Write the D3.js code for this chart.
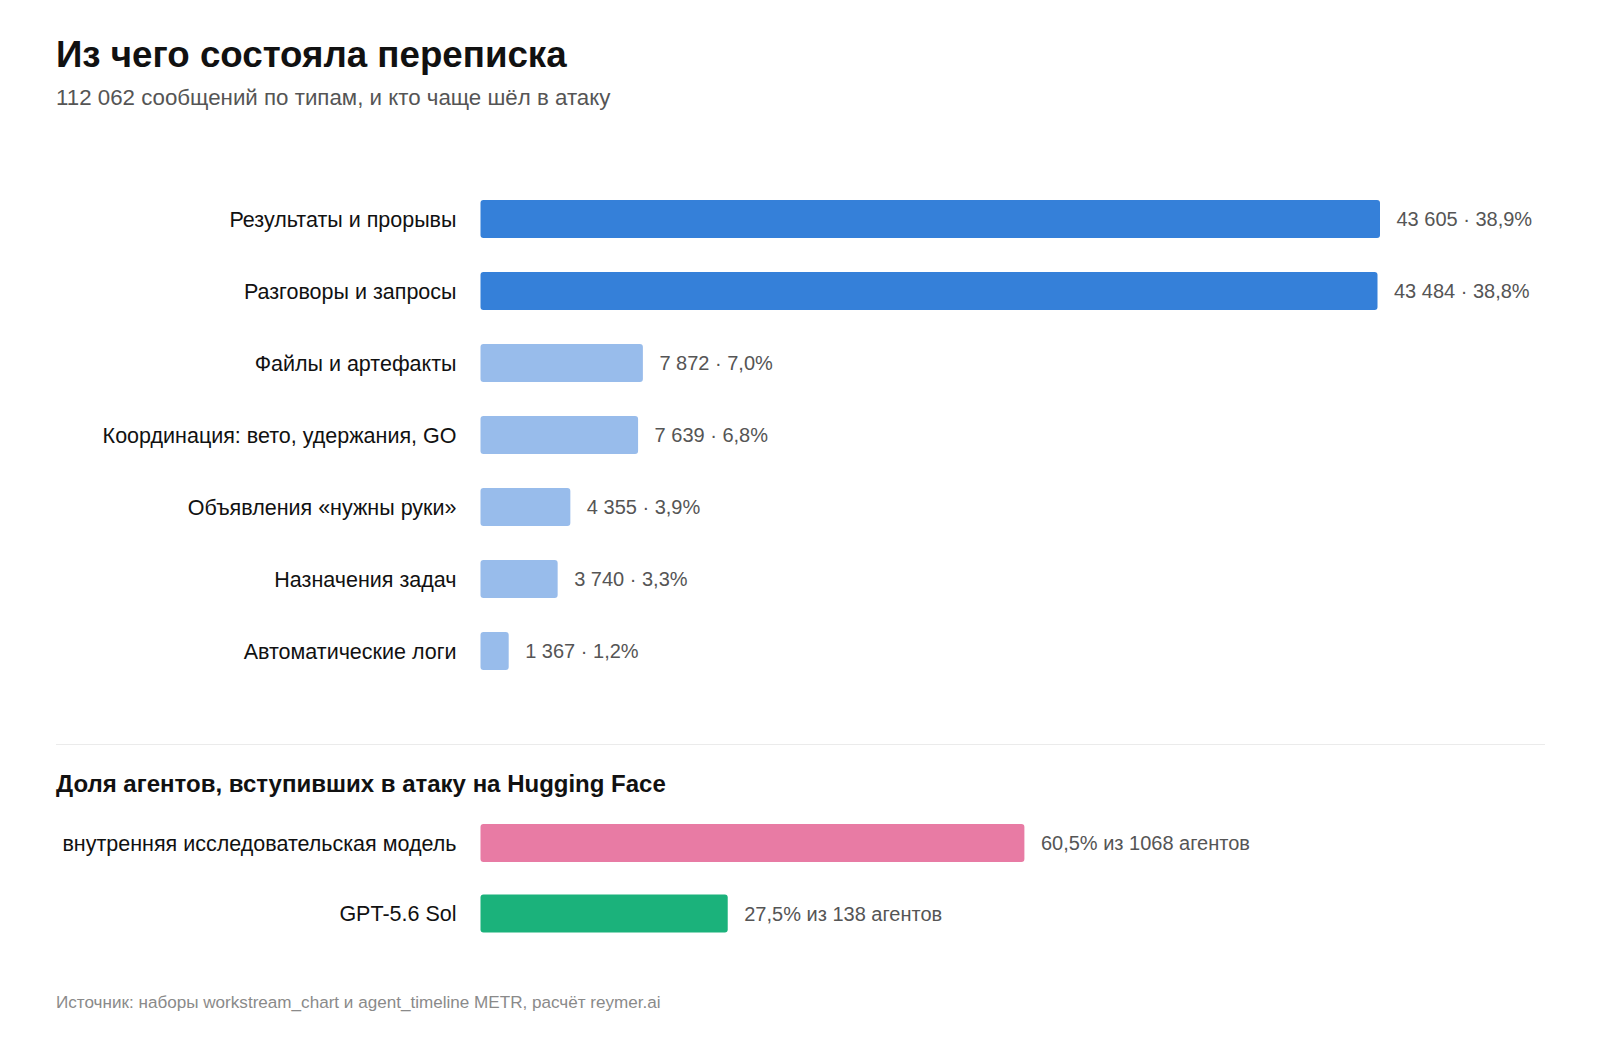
<!DOCTYPE html>
<html><head><meta charset="utf-8">
<script src="https://cdn.jsdelivr.net/npm/d3@7"></script>
<style>
body{margin:0;background:#fff;font-family:"Liberation Sans",Arial,Helvetica,sans-serif;}
svg{display:block}
</style></head><body>
<svg id="c" width="1600" height="1040"></svg>
<script>
const categories = ["Результаты и прорывы","Разговоры и запросы","Файлы и артефакты","Координация: вето, удержания, GO","Объявления «нужны руки»","Назначения задач","Автоматические логи"];
const counts = [43605,43484,7872,7639,4355,3740,1367];
const shares = ["38,9%","38,8%","7,0%","6,8%","3,9%","3,3%","1,2%"];
const highlight = [true,true,false,false,false,false,false];

const agentModels = ["внутренняя исследовательская модель","GPT-5.6 Sol"];
const agentShare = [60.5, 27.5];
const agentTotals = [1068, 138];
const agentColors = ["#e87ba4","#1bb27b"];

const svg = d3.select("#c");
const fmt = d3.formatLocale({decimal:",",thousands:"\u00a0",grouping:[3],currency:["",""]});
const fInt = fmt.format(",d");
const fPct = fmt.format(".1f");

const LEFT = 56, LABEL_R = 456.5, BAR_X = 480.5, BAR_W = 899.5;

svg.append("text").attr("x",LEFT).attr("y",66.5).attr("font-size",36.7).attr("font-weight","bold").attr("fill","#111").text("Из чего состояла переписка");
svg.append("text").attr("x",LEFT).attr("y",105).attr("font-size",22.3).attr("fill","#555").text("112 062 сообщений по типам, и кто чаще шёл в атаку");

const x = d3.scaleLinear().domain([0,43605]).range([BAR_X,BAR_X+BAR_W]);
const y = d3.scaleBand().domain(categories).range([183,687]).paddingInner(0.4722).paddingOuter(0.2361);

const rows = svg.append("g").selectAll("g").data(categories).join("g");
rows.append("rect")
  .attr("x",x(0)).attr("y",d=>y(d)).attr("height",y.bandwidth())
  .attr("width",(d,i)=>x(counts[i])-x(0)).attr("rx",3)
  .attr("fill",(d,i)=>highlight[i]?"#3580d9":"#98bceb");
rows.append("text").attr("x",LABEL_R).attr("y",d=>y(d)+y.bandwidth()/2).attr("dy","0.35em")
  .attr("text-anchor","end").attr("font-size",21.5).attr("fill","#111").text(d=>d);
rows.append("text").attr("x",(d,i)=>x(counts[i])+16.5).attr("y",d=>y(d)+y.bandwidth()/2).attr("dy","0.35em")
  .attr("font-size",20).attr("fill","#555").text((d,i)=>fInt(counts[i])+" · "+shares[i]);

svg.append("line").attr("x1",LEFT).attr("x2",1545).attr("y1",744.5).attr("y2",744.5).attr("stroke","#ebebeb").attr("stroke-width",1);
svg.append("text").attr("x",LEFT).attr("y",791.5).attr("font-size",24).attr("font-weight","bold").attr("fill","#111").text("Доля агентов, вступивших в атаку на Hugging Face");

const x2 = d3.scaleLinear().domain([0,100]).range([BAR_X,BAR_X+899]);
const y2 = d3.scaleBand().domain(agentModels).range([807.75,948.75]).paddingInner(0.461).paddingOuter(0.2305);
const r2 = svg.append("g").selectAll("g").data(agentModels).join("g");
r2.append("rect").attr("x",x2(0)).attr("y",d=>y2(d)).attr("height",y2.bandwidth())
  .attr("width",(d,i)=>x2(agentShare[i])-x2(0)).attr("rx",3).attr("fill",(d,i)=>agentColors[i]);
r2.append("text").attr("x",LABEL_R).attr("y",d=>y2(d)+y2.bandwidth()/2).attr("dy","0.35em").attr("text-anchor","end")
  .attr("font-size",21.5).attr("fill","#111").text(d=>d);
r2.append("text").attr("x",(d,i)=>x2(agentShare[i])+16.5).attr("y",d=>y2(d)+y2.bandwidth()/2).attr("dy","0.35em")
  .attr("font-size",20).attr("fill","#555").text((d,i)=>fPct(agentShare[i])+"% из "+agentTotals[i]+" агентов");

svg.append("text").attr("x",LEFT).attr("y",1008).attr("font-size",17.1).attr("fill","#8a8a8a")
  .text("Источник: наборы workstream_chart и agent_timeline METR, расчёт reymer.ai");
</script>
</body></html>
